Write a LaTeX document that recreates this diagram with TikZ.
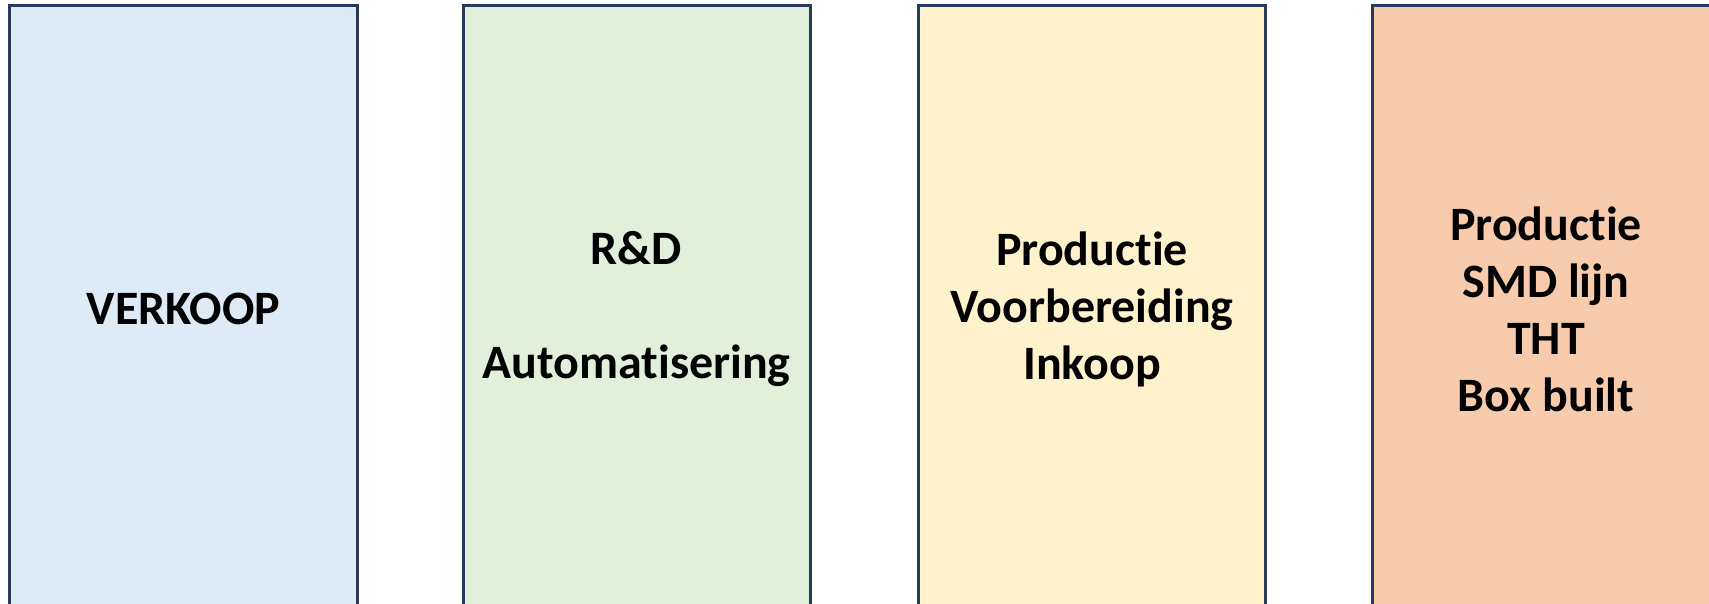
\documentclass[tikz,border=0pt]{standalone}
\usepackage{fontspec}
\setmainfont{Carlito}[Ligatures=NoCommon]
\definecolor{boxline}{RGB}{38,58,92}
\definecolor{salesblue}{RGB}{222,234,246}
\definecolor{rdgreen}{RGB}{226,239,218}
\definecolor{prepyellow}{RGB}{255,242,204}
\definecolor{prodorange}{RGB}{248,203,173}
\tikzset{
  dept/.style={rectangle, draw=boxline, line width=0.06cm, align=center,
    minimum height=12.16cm, minimum width=6.94cm,
    font=\fontsize{27.3}{32.4}\selectfont\bfseries}
}
\begin{document}
\begin{tikzpicture}
  \clip (0, 0) rectangle (34.18, -12.06);
  \fill[white] (0, 0) rectangle (34.18, -12.06);
  \node (verkoop) [dept, fill=salesblue] at (3.67, -6.18) {VERKOOP};
  \node (rd) [dept, fill=rdgreen] at (12.73, -6.18) {R\&D\\~\\Automatisering};
  \node (voorbereiding) [dept, fill=prepyellow] at (21.84, -6.18) {Productie\\Voorbereiding\\Inkoop};
  \node (productie) [dept, fill=prodorange] at (30.92, -6.18) {Productie\\SMD lijn\\THT\\Box built};
\end{tikzpicture}
\end{document}
